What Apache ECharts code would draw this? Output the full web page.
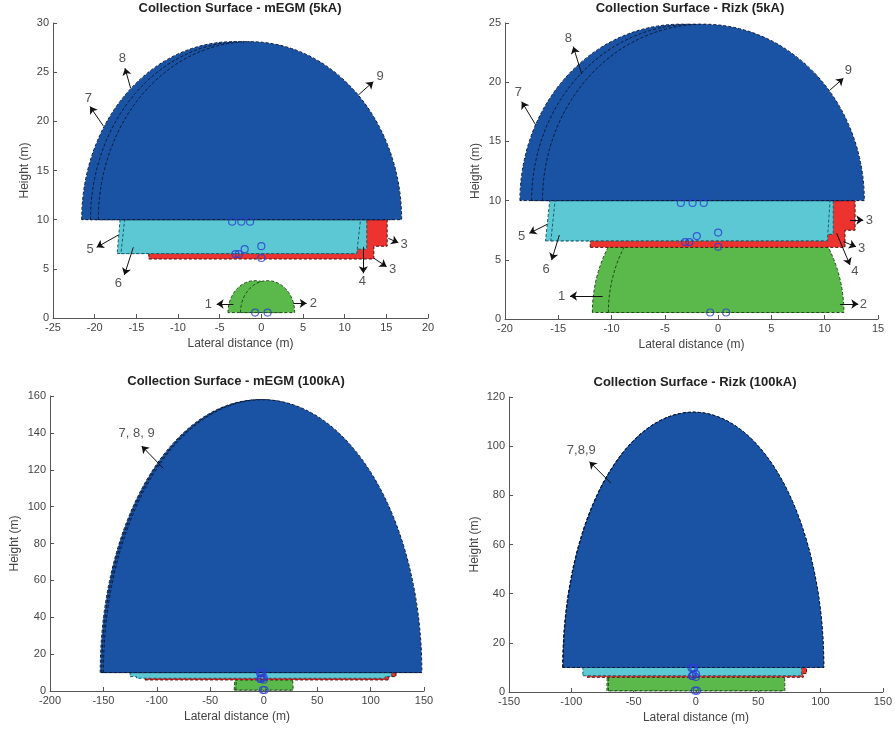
<!DOCTYPE html>
<html>
<head>
  <meta charset="UTF-8">
  <title>Collection Surface</title>
  <script src="https://cdn.jsdelivr.net/npm/echarts@6.0.0/dist/echarts.min.js"></script>
</head>
<body style="margin:0;background:#fff">
  <div id="main" style="width:895px;height:732px;"></div>
  <script>
    // panel titles and axis ranges [min, max, interval]
    const titles = ['Collection Surface - mEGM (5kA)', 'Collection Surface - Rizk (5kA)',
                    'Collection Surface - mEGM (100kA)', 'Collection Surface - Rizk (100kA)'];
    const xRanges = [[-25, 20, 5], [-20, 15, 5], [-200, 150, 50], [-150, 150, 50]];
    const yRanges = [[0, 30, 5], [0, 25, 5], [0, 160, 20], [0, 120, 20]];

    // domes (surfaces 7, 8, 9 and 1, 2): [centre x, half width, base y, top y]
    const megm5Domes = [[-3.36, 18.2, 10, 28.1], [-2.3, 18.2, 10, 28.1], [-1.36, 18.2, 10, 28.1]];
    const rizk5Domes = [[-3.5, 15.1, 10, 24.9], [-2.4, 15.1, 10, 24.9], [-1.38, 15.1, 10, 24.9]];
    const megm100Domes = [[-4, 149, 10, 158], [-2.5, 149, 10, 158], [-1, 149, 10, 158]];
    const rizk100Domes = [[-2.3, 104.6, 10, 113.8], [-2.1, 104.6, 10, 113.8], [-1.9, 104.6, 10, 113.8]];

    const megm5Green = [[-0.75, 3.25, 0.55, 3.8], [0.75, 3.25, 0.55, 3.8]];
    const rizk5Green = [[-0.75, 11.05, 0.55, 11.6], [0.75, 11.05, 0.55, 11.6]];
    const megm100Green = [[-0.75, 26.8, 0.5, 27.3], [0.75, 26.8, 0.5, 27.3]];
    const rizk100Green = [[-0.6, 70.8, 0.5, 71.3], [0.6, 70.8, 0.5, 71.3]];

    // surface 3 (red) outlines, [x, y] corners
    const megm5Red = [[[-13.5, 6.0], [13.5, 6.0], [13.5, 7.3], [15.1, 7.3], [15.1, 10], [-13.5, 10]]];
    const rizk5Red = [[[-12.0, 6.05], [11.9, 6.05], [11.9, 7.5], [12.85, 7.5], [12.85, 10], [-12.0, 10]]];
    const megm100Red = [[[-111, 6.0], [117, 6.0], [117, 7.8], [123.8, 7.8], [123.8, 10], [-111, 10]]];
    const rizk100Red = [[[-87.5, 6.0], [86.2, 6.0], [86.2, 7.5], [88.8, 7.5], [88.8, 10], [-87.5, 10]]];

    // surfaces 4, 5, 6 (cyan)
    const megm5Cyan = [
      [[-17.3, 6.55], [11.45, 6.55], [11.45, 7.0], [12.65, 7.0], [12.65, 10], [-16.95, 10]],
      [[-16.85, 6.55], [11.45, 6.55], [11.9, 10], [-16.4, 10]]
    ];
    const rizk5Cyan = [
      [[-16.2, 6.6], [10.25, 6.6], [10.25, 7.15], [10.8, 7.15], [10.8, 10], [-15.8, 10]],
      [[-15.7, 6.6], [10.25, 6.6], [10.5, 10], [-15.3, 10]]
    ];
    const megm100Cyan = [[[-125, 7.8], [-119, 7.8], [-119, 6.9], [113.5, 6.9], [113.5, 7.8],
                          [119.8, 7.8], [119.8, 10], [-125, 10]]];
    const rizk100Cyan = [[[-90.7, 6.6], [84.8, 6.6], [84.8, 10], [-90.7, 10]]];

    // structure points (blue circles)
    const sensorX = [-3.5, -2.4, -1.35, -3.1, -2.7, -2.0, 0, 0, -0.75, 0.75];
    const sensorY = [9.8, 9.8, 9.8, 6.5, 6.5, 7.0, 7.3, 6.1, 0.55, 0.55];

    // annotations: [text, from x, from y, head x, head y, text x, text y]
    const megm5Notes = [
      ['7', -18.96, 19.53, -20.56, 21.5, -20.76, 22.33],
      ['8', -15.68, 23.36, -16.36, 25.4, -16.68, 26.4],
      ['9', 11.64, 22.68, 13.44, 24.03, 14.24, 24.54],
      ['5', -17.16, 8.44, -19.76, 7.19, -20.56, 6.99],
      ['6', -15.36, 7.19, -16.44, 4.37, -17.16, 3.53],
      ['3', 15.24, 8.1, 16.44, 7.66, 17.12, 7.49],
      ['3', 13.52, 6.07, 15.04, 5.22, 15.76, 4.95],
      ['4', 12.24, 7.25, 12.24, 4.55, 12.12, 3.76],
      ['1', -3.36, 1.42, -5.36, 1.42, -6.36, 1.42],
      ['2', 3.84, 1.49, 5.44, 1.49, 6.24, 1.49]
    ];
    const rizk5Notes = [
      ['8', -12.8, 20.69, -13.59, 23.0, -14.06, 23.7],
      ['7', -17.12, 16.39, -18.43, 18.35, -18.75, 19.11],
      ['9', 10.5, 19.34, 11.75, 20.33, 12.22, 21.03],
      ['5', -16.03, 8.0, -17.72, 7.24, -18.43, 7.01],
      ['6', -14.9, 7.09, -15.62, 4.98, -16.15, 4.2],
      ['3', 12.37, 8.36, 13.62, 8.36, 14.19, 8.36],
      ['3', 11.75, 6.53, 12.94, 6.11, 13.47, 5.97],
      ['4', 11.12, 7.24, 12.37, 4.56, 12.84, 4.0],
      ['1', -10.83, 1.94, -13.9, 1.94, -14.68, 1.94],
      ['2', 11.43, 1.27, 13.15, 1.27, 13.62, 1.27]
    ];
    const megm100Notes = [['7, 8, 9', -94, 120.8, -114.2, 132.9, -118.9, 139.7]];
    const rizk100Notes = [['7,8,9', -68.1, 84.9, -85.4, 93.7, -92, 98.2]];

    const grids = [
      { left: 53, top: 23, width: 375, height: 295 },
      { left: 505, top: 23, width: 373, height: 296 },
      { left: 50, top: 396, width: 374, height: 295 },
      { left: 509, top: 397, width: 376, height: 295 }
    ];
    const titlePos = [[240, 8], [690, 8], [236, 381], [695, 382]];
    const xNameGap = [20, 20, 20, 20];
    const yNameGap = [22, 23, 29, 28];

    const FONT = 'Liberation Sans, Arial, sans-serif';
    const BLUE = '#1a53a3', CYAN = '#5cc8d4', RED = '#ec3330', GREEN = '#5bb84a';

    // half-ellipse in pixel space from the dome's data extents
    function domeItem(fill, stroke) {
      return function (params, api) {
        const cx = api.value(0), hw = api.value(1), base = api.value(2), top = api.value(3);
        const l = api.coord([cx - hw, base]);
        const r = api.coord([cx + hw, base]);
        const t = api.coord([cx, top]);
        const rx = (r[0] - l[0]) / 2, ry = l[1] - t[1];
        return {
          type: 'path',
          shape: { pathData: 'M' + l[0] + ',' + l[1] + ' A' + rx + ',' + ry + ' 0 0 1 ' + r[0] + ',' + r[1] + ' Z' },
          style: { fill: fill, stroke: stroke, lineWidth: 1, lineDash: [3, 2] }
        };
      };
    }

    function polyItem(polys, fill, stroke) {
      return function (params, api) {
        const pts = polys[params.dataIndex].map(p => api.coord(p));
        return {
          type: 'polygon',
          shape: { points: pts },
          style: { fill: fill, stroke: stroke, lineWidth: 1, lineDash: [3, 2] }
        };
      };
    }

    function textItem(notes) {
      return function (params, api) {
        const p = api.coord([api.value(0), api.value(1)]);
        return {
          type: 'text', x: p[0], y: p[1],
          style: { text: notes[params.dataIndex][0], fill: '#555', font: '13px ' + FONT,
                   align: 'center', verticalAlign: 'middle' }
        };
      };
    }

    function panelSeries(i, domes, green, red, cyan, notes) {
      const ax = { coordinateSystem: 'cartesian2d', xAxisIndex: i, yAxisIndex: i, silent: true };
      return [
        Object.assign({ type: 'custom', data: green, renderItem: domeItem(GREEN, '#1c4a16') }, ax),
        Object.assign({ type: 'custom', data: red.map(p => p[0]), renderItem: polyItem(red, RED, '#4a1010') }, ax),
        Object.assign({ type: 'custom', data: cyan.map(p => p[0]), renderItem: polyItem(cyan, CYAN, '#13606c') }, ax),
        Object.assign({
          type: 'scatter', data: sensorX.map((x, k) => [x, sensorY[k]]),
          symbol: 'circle', symbolSize: 7,
          itemStyle: { color: 'rgba(0,0,0,0)', borderColor: '#2b3fd0', borderWidth: 1.2 }
        }, ax),
        Object.assign({ type: 'custom', data: domes, renderItem: domeItem(BLUE, '#0a1838') }, ax),
        Object.assign({
          type: 'lines',
          data: notes.map(n => ({ coords: [[n[1], n[2]], [n[3], n[4]]] })),
          symbol: ['none', 'arrow'], symbolSize: 7,
          lineStyle: { color: '#111', width: 1, opacity: 1 }
        }, ax),
        Object.assign({ type: 'custom', data: notes.map(n => [n[5], n[6]]), renderItem: textItem(notes) }, ax)
      ];
    }

    const chart = echarts.init(document.getElementById('main'));

    const axisCommon = {
      type: 'value',
      nameLocation: 'middle',
      nameTextStyle: { fontSize: 12, color: '#444', fontFamily: FONT },
      axisLine: { show: true, onZero: false, lineStyle: { color: '#555', width: 1 } },
      axisTick: { show: true, inside: true, length: 4, lineStyle: { color: '#555' } },
      axisLabel: { fontSize: 11, color: '#444', fontFamily: FONT, margin: 4 },
      splitLine: { show: false }
    };

    const option = {
      animation: false,
      backgroundColor: '#fff',
      graphic: titles.map((t, i) => ({
        type: 'text', x: titlePos[i][0], y: titlePos[i][1],
        style: { text: t, fill: '#222', font: 'bold 13px ' + FONT, align: 'center', verticalAlign: 'middle' }
      })),
      grid: grids,
      xAxis: xRanges.map((r, i) => Object.assign({}, axisCommon, {
        gridIndex: i, min: r[0], max: r[1], interval: r[2],
        name: 'Lateral distance (m)', nameGap: xNameGap[i]
      })),
      yAxis: yRanges.map((r, i) => Object.assign({}, axisCommon, {
        gridIndex: i, min: r[0], max: r[1], interval: r[2],
        name: 'Height (m)', nameGap: yNameGap[i]
      })),
      series: [].concat(
        panelSeries(0, megm5Domes, megm5Green, megm5Red, megm5Cyan, megm5Notes),
        panelSeries(1, rizk5Domes, rizk5Green, rizk5Red, rizk5Cyan, rizk5Notes),
        panelSeries(2, megm100Domes, megm100Green, megm100Red, megm100Cyan, megm100Notes),
        panelSeries(3, rizk100Domes, rizk100Green, rizk100Red, rizk100Cyan, rizk100Notes)
      )
    };

    chart.setOption(option);
  </script>
</body>
</html>
